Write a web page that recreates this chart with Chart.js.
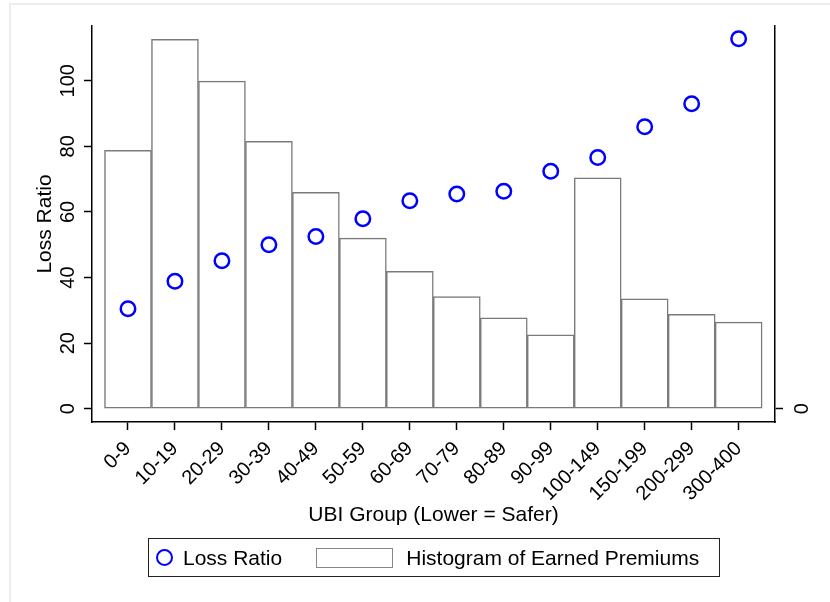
<!DOCTYPE html>
<html lang="en">
<head>
<meta charset="UTF-8">
<title>Loss Ratio by UBI Group</title>
<script src="https://cdn.jsdelivr.net/npm/chart.js"></script>
<style>
    body { margin: 0; background: #fff; font-family: "Liberation Sans", Arial, sans-serif; }
    .wrap { position: relative; width: 830px; height: 602px; overflow: hidden; }
    .frame { position: absolute; left: 9px; top: 3px; width: 900px; height: 700px;
             border-top: 2px solid #e9eef2; border-left: 2px solid #e9eef2; }
    canvas { position: absolute; left: 0; top: 0; }
    .legend { position: absolute; left: 148px; top: 538px; width: 572px; height: 39px;
              box-sizing: border-box; border: 1px solid #222; display: flex; align-items: center;
              font-size: 21px; color: #000; white-space: nowrap; }
    .mk { width: 17px; height: 17px; box-sizing: border-box; border: 2.5px solid #0000ff;
          border-radius: 50%; margin-left: 7px; margin-right: 10px; }
    .sw { width: 77px; height: 20px; box-sizing: border-box; border: 1.5px solid #888;
          margin-left: 34px; margin-right: 13px; }
</style>
</head>
<body>
<div class="wrap">
    <div class="frame"></div>
    <canvas id="chart" width="830" height="602"></canvas>
    <div class="legend">
        <span class="mk"></span><span>Loss Ratio</span><span class="sw"></span><span>Histogram of Earned Premiums</span>
    </div>
</div>
<script>
    // data
    var groups = ['0-9', '10-19', '20-29', '30-39', '40-49', '50-59', '60-69', '70-79',
                  '80-89', '90-99', '100-149', '150-199', '200-299', '300-400'];
    var lossRatio = [30.5, 38.9, 45.1, 50.0, 52.5, 57.9, 63.4, 65.5, 66.3, 72.4, 76.6, 86.0, 93.0, 112.8];
    // earned premiums, drawn on the right axis (only 0 labelled)
    var premiums = [78.8, 112.6, 99.9, 81.5, 66.0, 52.0, 41.9, 34.2, 27.7, 22.5, 70.4, 33.5, 28.8, 26.4];
    var leftTicks = [0, 20, 40, 60, 80, 100];
    var rightTicks = [0];

    var fam = '"Liberation Sans", Arial, sans-serif';
    var yMin = -4.05, yMax = 116.7;

    var lossPoints = lossRatio.map(function (v, i) { return { x: i, y: v }; });
    var premPoints = premiums.map(function (v, i) { return { x: i, y: v }; });

    var ctx = document.getElementById('chart').getContext('2d');
    new Chart(ctx, {
        type: 'bar',
        data: {
            datasets: [{
                type: 'scatter',
                label: 'Loss Ratio',
                data: lossPoints,
                yAxisID: 'y',
                pointRadius: 7.25,
                pointHoverRadius: 7.25,
                pointBorderWidth: 2.5,
                borderColor: '#0000ff',
                backgroundColor: 'rgba(0,0,0,0)',
                order: 0
            }, {
                type: 'bar',
                label: 'Histogram of Earned Premiums',
                data: premPoints,
                yAxisID: 'y2',
                backgroundColor: '#ffffff',
                borderColor: '#7a7a7a',
                borderWidth: 1.5,
                borderSkipped: false,
                barPercentage: 1,
                categoryPercentage: 1,
                order: 1
            }]
        },
        options: {
            responsive: false,
            animation: false,
            layout: { padding: { top: 25, bottom: 70, left: 0, right: 0 } },
            plugins: { legend: { display: false }, tooltip: { enabled: false } },
            scales: {
                x: {
                    type: 'linear',
                    position: 'bottom',
                    min: -0.766,
                    max: 13.774,
                    offset: false,
                    afterBuildTicks: function (s) { s.ticks = groups.map(function (g, i) { return { value: i }; }); },
                    afterFit: function (s) { s.height = 110; },
                    grid: { offset: false, drawOnChartArea: false, tickLength: 8, tickColor: '#000', tickWidth: 1.5 },
                    border: { color: '#000', width: 1.5 },
                    ticks: {
                        autoSkip: false, minRotation: 45, maxRotation: 45, padding: 7, color: '#000',
                        font: { size: 20, family: fam },
                        callback: function (v) { return groups[v]; }
                    },
                    title: {
                        display: true, text: 'UBI Group (Lower = Safer)', color: '#000',
                        font: { size: 21, family: fam }, padding: { top: 4, bottom: 4 }
                    }
                },
                y: {
                    type: 'linear',
                    position: 'left',
                    min: yMin,
                    max: yMax,
                    afterBuildTicks: function (s) { s.ticks = leftTicks.map(function (v) { return { value: v }; }); },
                    afterFit: function (s) { s.width = 92; },
                    grid: { drawOnChartArea: false, tickLength: 8, tickColor: '#000', tickWidth: 1.5 },
                    border: { color: '#000', width: 1.5 },
                    ticks: {
                        minRotation: 90, maxRotation: 90, crossAlign: 'center', padding: -1, color: '#000',
                        font: { size: 20, family: fam }
                    },
                    title: {
                        display: true, text: 'Loss Ratio', color: '#000',
                        font: { size: 21, family: fam }, padding: { top: 33, bottom: 33 }
                    }
                },
                y2: {
                    type: 'linear',
                    position: 'right',
                    min: yMin,
                    max: yMax,
                    afterBuildTicks: function (s) { s.ticks = rightTicks.map(function (v) { return { value: v }; }); },
                    afterFit: function (s) { s.width = 55; },
                    grid: { drawOnChartArea: false, tickLength: 8, tickColor: '#000', tickWidth: 1.5 },
                    border: { color: '#000', width: 1.5 },
                    ticks: {
                        minRotation: 90, maxRotation: 90, crossAlign: 'center', padding: 14, color: '#000',
                        font: { size: 20, family: fam }
                    }
                }
            }
        }
    });
</script>
</body>
</html>
